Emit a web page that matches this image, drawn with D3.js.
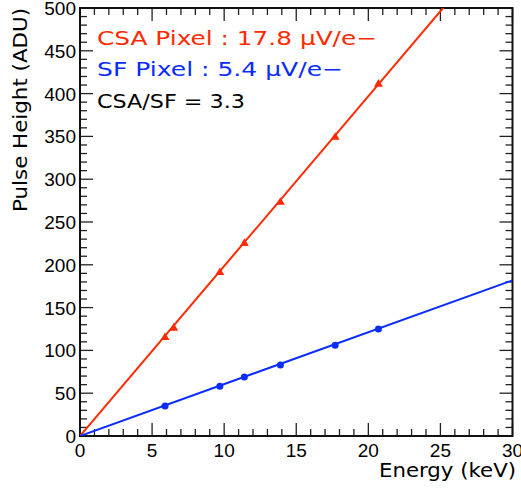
<!DOCTYPE html>
<html>
<head>
<meta charset="utf-8">
<script src="https://cdn.jsdelivr.net/npm/d3@7"></script>
<style>
  body { margin: 0; background: #fff; }
  svg { display: block; }
  text { font-family: "DejaVu Sans", sans-serif; }
  .xlab, .ylab { font-family: "Liberation Sans", "DejaVu Sans", sans-serif; }
</style>
</head>
<body>
<div id="chart"></div>
<script>
// measured points (keV, ADU)
let csaEnergy = [5.9, 6.5, 9.7, 11.4, 13.9, 17.7, 20.7];
let csaHeight = [115, 126, 191, 225, 273, 349, 411];
let sfEnergy = [5.9, 9.7, 11.4, 13.9, 17.7, 20.7];
let sfHeight = [35, 58, 69, 83, 106, 125];
// linear fits through origin: [slope, offset]
let csaFit = [19.85, 0];
let sfFit = [6.06, 0];
let xTicks = [0, 5, 10, 15, 20, 25, 30];
let yTicks = [0, 50, 100, 150, 200, 250, 300, 350, 400, 450, 500];
let legendLines = ["CSA Pixel : 17.8 \u00b5V/e\u2212", "SF Pixel : 5.4 \u00b5V/e\u2212", "CSA/SF = 3.3"];

let fullWidth = 521, fullHeight = 490;
let margin = {top: 8, right: 8.5, bottom: 54, left: 80};
let width = fullWidth - margin.left - margin.right;
let height = fullHeight - margin.top - margin.bottom;

let red = "#ff2a00", blue = "#0a2cff";

let svg = d3.select("#chart").append("svg")
    .attr("width", fullWidth)
    .attr("height", fullHeight);

let g = svg.append("g")
    .attr("transform", "translate(" + margin.left + "," + margin.top + ")");

let x = d3.scaleLinear().domain([0, 30]).range([0, width]);
let y = d3.scaleLinear().domain([0, 500]).range([height, 0]);

g.append("defs").append("clipPath").attr("id", "clip")
  .append("rect").attr("width", width).attr("height", height);

// ticks on all four sides, pointing inward
let xMinor = d3.range(0, 30.01, 1);
let yMinor = d3.range(0, 500.1, 10);

function tickLen(v, step) { return Math.abs(v / step - Math.round(v / step)) < 1e-6 ? 13 : 7; }

let tickG = g.append("g").attr("stroke", "#222").attr("stroke-width", 1.3);
xMinor.forEach(function(v) {
  let L = tickLen(v, 5);
  tickG.append("line").attr("x1", x(v)).attr("x2", x(v)).attr("y1", height).attr("y2", height - L);
  tickG.append("line").attr("x1", x(v)).attr("x2", x(v)).attr("y1", 0).attr("y2", L);
});
yMinor.forEach(function(v) {
  let L = tickLen(v, 50);
  tickG.append("line").attr("y1", y(v)).attr("y2", y(v)).attr("x1", 0).attr("x2", L);
  tickG.append("line").attr("y1", y(v)).attr("y2", y(v)).attr("x1", width).attr("x2", width - L);
});

// frame
g.append("rect")
  .attr("width", width).attr("height", height)
  .attr("fill", "none").attr("stroke", "#111").attr("stroke-width", 2);

// tick labels
g.selectAll(".xlab").data(xTicks).enter().append("text")
  .attr("class", "xlab")
  .attr("x", function(d) { return x(d); })
  .attr("y", height + 21)
  .attr("text-anchor", "middle")
  .attr("font-size", 19)
  .text(function(d) { return d; });

g.selectAll(".ylab").data(yTicks).enter().append("text")
  .attr("class", "ylab")
  .attr("x", -4)
  .attr("y", function(d) { return y(d) + 7; })
  .attr("text-anchor", "end")
  .attr("font-size", 19)
  .text(function(d) { return d; });

// axis titles
svg.append("text")
  .attr("x", 516).attr("y", 477)
  .attr("text-anchor", "end")
  .attr("font-size", 20)
  .attr("textLength", 137)
  .attr("lengthAdjust", "spacingAndGlyphs")
  .text("Energy (keV)");

svg.append("text")
  .attr("transform", "translate(27,8) rotate(-90)")
  .attr("text-anchor", "end")
  .attr("font-size", 20)
  .attr("textLength", 204)
  .attr("lengthAdjust", "spacingAndGlyphs")
  .text("Pulse Height (ADU)");

// fit lines
function fitLine(fit) {
  return d3.line()
    .x(function(d) { return x(d); })
    .y(function(d) { return y(fit[0] * d + fit[1]); })([0, 30]);
}
let plot = g.append("g").attr("clip-path", "url(#clip)");
plot.append("path").attr("d", fitLine(csaFit)).attr("stroke", red).attr("stroke-width", 2).attr("fill", "none");
plot.append("path").attr("d", fitLine(sfFit)).attr("stroke", blue).attr("stroke-width", 2).attr("fill", "none");

// markers
let tri = d3.symbol().type(d3.symbolTriangle).size(34);
plot.selectAll(".csa").data(csaEnergy).enter().append("path")
  .attr("class", "csa")
  .attr("d", tri)
  .attr("transform", function(d, i) { return "translate(" + x(d) + "," + y(csaHeight[i]) + ")"; })
  .attr("fill", red);

plot.selectAll(".sf").data(sfEnergy).enter().append("circle")
  .attr("class", "sf")
  .attr("cx", function(d) { return x(d); })
  .attr("cy", function(d, i) { return y(sfHeight[i]); })
  .attr("r", 3.5)
  .attr("fill", blue);

// legend text
let legendColors = [red, blue, "#000"];
let legendWidths = [280, 246, 148];
svg.selectAll(".leg").data(legendLines).enter().append("text")
  .attr("class", "leg")
  .attr("x", 97)
  .attr("y", function(d, i) { return 44.5 + i * 31.6; })
  .attr("font-size", 20)
  .attr("textLength", function(d, i) { return legendWidths[i]; })
  .attr("lengthAdjust", "spacingAndGlyphs")
  .attr("fill", function(d, i) { return legendColors[i]; })
  .text(function(d) { return d; });
</script>
</body>
</html>
